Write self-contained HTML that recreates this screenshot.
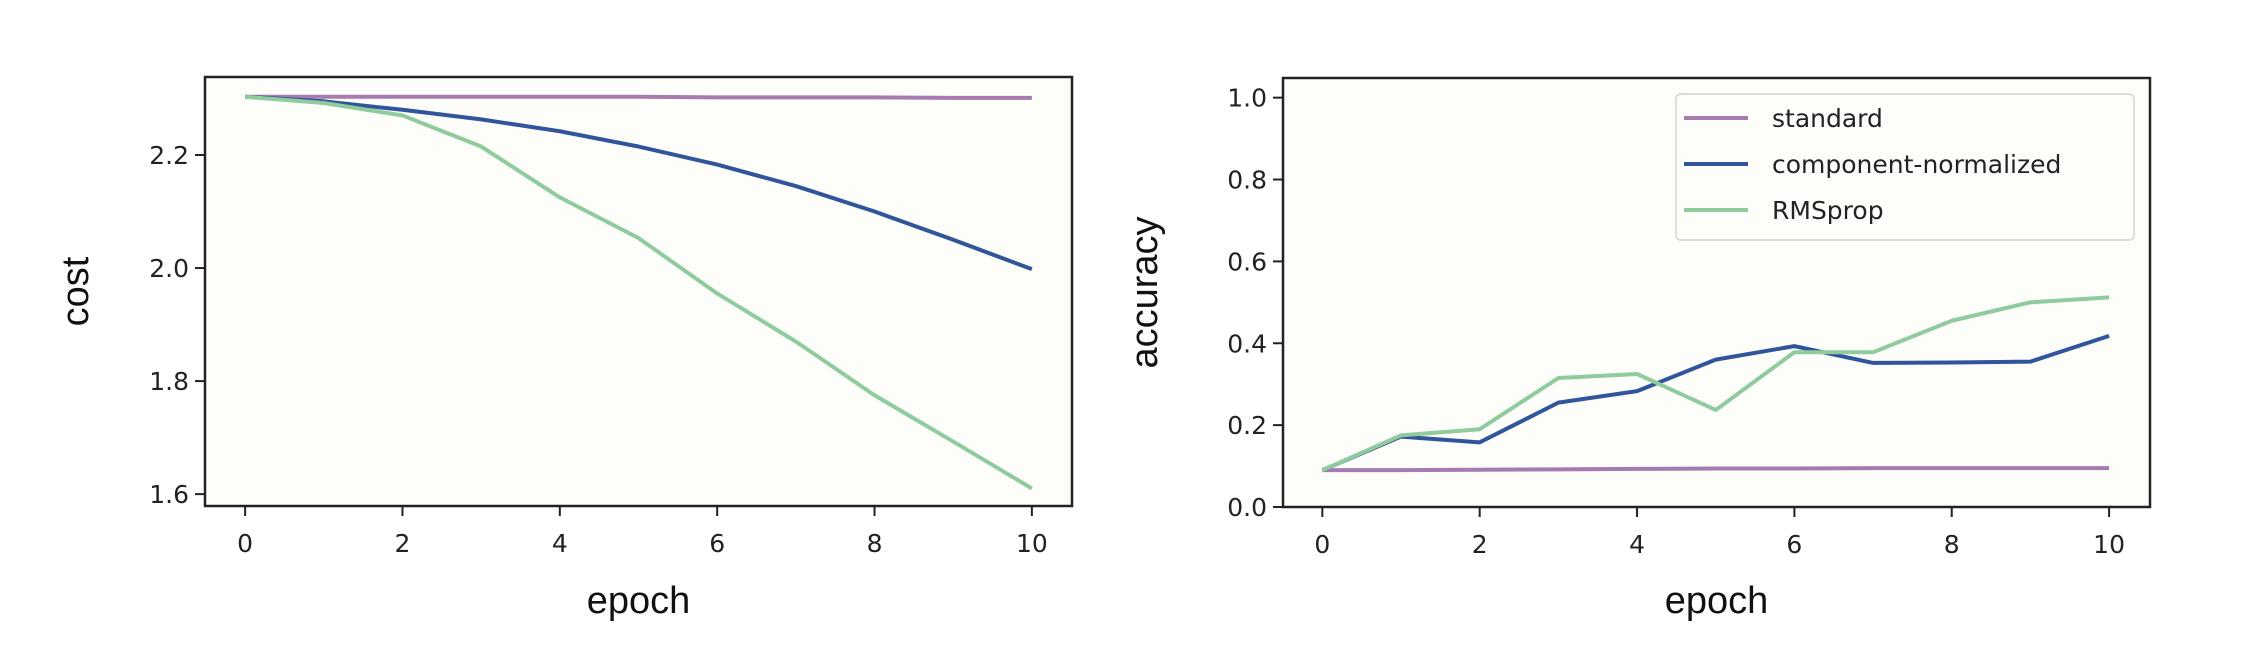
<!DOCTYPE html>
<html><head><meta charset="utf-8"><style>
html,body{margin:0;padding:0;background:#fff;}
svg{display:block;}
text{font-family:"DejaVu Sans","Liberation Sans",sans-serif;fill:#222;}
.lab{font-family:"Liberation Sans",sans-serif;font-size:38px;fill:#111;}
</style></head><body>
<svg id="fig" width="2244" height="664" viewBox="0 0 2244 664" xmlns="http://www.w3.org/2000/svg"></svg>
<script>
const epochs=[0,1,2,3,4,5,6,7,8,9,10];
const costStandard=[2.303,2.303,2.303,2.303,2.303,2.303,2.302,2.302,2.302,2.301,2.301];
const costComponent=[2.303,2.295,2.28,2.263,2.242,2.215,2.183,2.145,2.1,2.05,1.998];
const costRMS=[2.303,2.292,2.27,2.215,2.125,2.053,1.955,1.87,1.775,1.693,1.61];
const accStandard=[0.09,0.09,0.091,0.092,0.093,0.094,0.094,0.095,0.095,0.095,0.095];
const accComponent=[0.09,0.172,0.158,0.255,0.283,0.36,0.393,0.352,0.353,0.355,0.418];
const accRMS=[0.09,0.175,0.19,0.315,0.325,0.237,0.378,0.378,0.455,0.5,0.512];
const xTicks=[0,2,4,6,8,10];
const costTicks=[1.6,1.8,2.0,2.2];
const accTicks=[0,0.2,0.4,0.6,0.8,1.0];
const seriesNames=["standard","component-normalized","RMSprop"];
const colors=["#a57bb0","#31559a","#8fcb9d"];

const NS="http://www.w3.org/2000/svg";
const svg=document.getElementById('fig');
function mk(tag,attrs,parent){const e=document.createElementNS(NS,tag);for(const k in attrs)e.setAttribute(k,attrs[k]);(parent||svg).appendChild(e);return e;}

function panel(cfg){
  const g=mk('g',{});
  
  
  const {L,R,T,B,x0,x1,y0,y1}=cfg;
  const sx=v=>L+(v-x0)/(x1-x0)*(R-L);
  const sy=v=>B-(v-y0)/(y1-y0)*(B-T);
  const bg=mk('rect',{x:L,y:T,width:R-L,height:B-T,fill:'#fdfdfa'},g);
  
  
  cfg.series.forEach((s,i)=>{
    const p=mk('polyline',{points:epochs.map((e,j)=>sx(e)+','+sy(s[j])).join(' '),fill:'none',stroke:colors[i],'stroke-width':4,'stroke-linejoin':'round'},g);
    
    
  });
  const fr=mk('rect',{x:L,y:T,width:R-L,height:B-T,fill:'none',stroke:'#222','stroke-width':2.5},g);
  
  
  xTicks.forEach(v=>{
    mk('line',{x1:sx(v),x2:sx(v),y1:B,y2:B+10,stroke:'#222','stroke-width':2},g);
    const t=mk('text',{x:sx(v),y:B+46,'font-size':25,'text-anchor':'middle'},g);
    t.textContent=v;
    
    
  });
  cfg.yTicks.forEach(v=>{
    mk('line',{x1:L-10,x2:L,y1:sy(v),y2:sy(v),stroke:'#222','stroke-width':2},g);
    const t=mk('text',{x:L-16,y:sy(v)+9,'font-size':25,'text-anchor':'end'},g);
    t.textContent=v.toFixed(1);
    
    
  });
  const xl=mk('text',{x:(L+R)/2,y:613,class:'lab','text-anchor':'middle'},g);
  xl.textContent='epoch';
  
  
  const yl=mk('text',{x:0,y:0,class:'lab','text-anchor':'middle',transform:`translate(${cfg.ylx},${(T+B)/2}) rotate(-90)`},g);
  yl.textContent=cfg.ylabel;
  
  
}
panel({name:'cost-chart',L:205,R:1072,T:77,B:506,x0:-0.51,x1:10.51,y0:1.579,y1:2.338,yTicks:costTicks,series:[costStandard,costComponent,costRMS],ylabel:'cost',ylx:88});
panel({name:'accuracy-chart',L:1283,R:2150,T:78,B:507,x0:-0.5,x1:10.52,y0:0,y1:1.048,yTicks:accTicks,series:[accStandard,accComponent,accRMS],ylabel:'accuracy',ylx:1157});

const lg=mk('g',{});


mk('rect',{x:1676,y:94,width:458,height:146,rx:5,fill:'#fdfdfa',stroke:'#ddd','stroke-width':2},lg);
seriesNames.forEach((n,i)=>{
  const y=118+i*46;
  const ln=mk('line',{x1:1684,x2:1748,y1:y,y2:y,stroke:colors[i],'stroke-width':4},lg);
  
  
  const t=mk('text',{x:1772,y:y+9,'font-size':25},lg);
  t.textContent=n;
  
  
});
</script>
</body></html>
